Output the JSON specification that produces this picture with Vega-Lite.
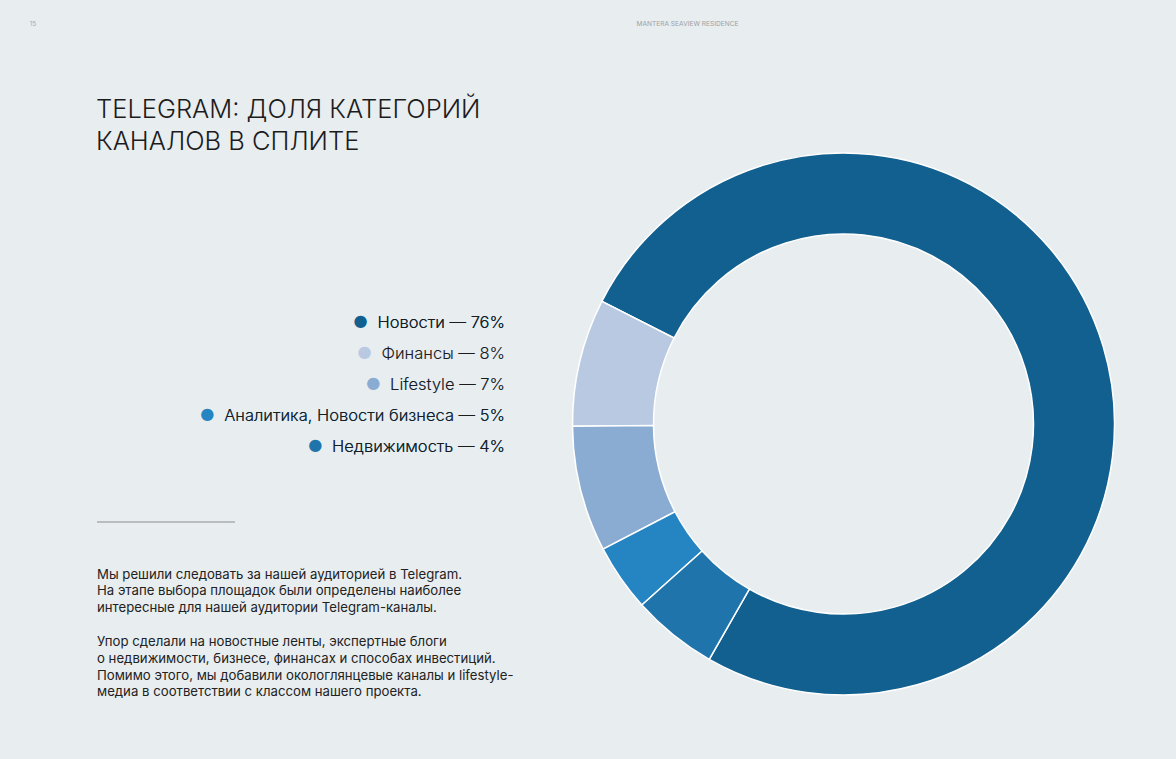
{
  "$schema": "https://vega.github.io/schema/vega-lite/v6.json",
  "background": "#e8edf0",
  "padding": {"left": 0, "top": 0, "right": 61, "bottom": 1},
  "config": {
    "view": {"stroke": null},
    "font": "Inter"
  },
  "datasets": {
    "split": [
      {"n": 1, "cat": "Новости", "share": 75.7, "label": "Новости — 76%"},
      {"n": 2, "cat": "Финансы", "share": 7.6, "label": "Финансы — 8%"},
      {"n": 3, "cat": "Lifestyle", "share": 7.5, "label": "Lifestyle — 7%"},
      {"n": 4, "cat": "Аналитика, Новости бизнеса", "share": 4.0, "label": "Аналитика, Новости бизнеса — 5%"},
      {"n": 5, "cat": "Недвижимость", "share": 5.1, "label": "Недвижимость — 4%"}
    ],
    "page": [{"t": "15"}],
    "header": [{"t": "MANTERA SEAVIEW RESIDENCE"}],
    "heading": [{"t": "TELEGRAM: ДОЛЯ КАТЕГОРИЙ\nКАНАЛОВ В СПЛИТЕ"}],
    "body1": [{"t": "Мы решили следовать за нашей аудиторией в Telegram.\nНа этапе выбора площадок были определены наиболее\nинтересные для нашей аудитории Telegram-каналы."}],
    "body2": [{"t": "Упор сделали на новостные ленты, экспертные блоги\nо недвижимости, бизнесе, финансах и способах инвестиций.\nПомимо этого, мы добавили окологлянцевые каналы и lifestyle-\nмедиа в соответствии с классом нашего проекта."}],
    "divider": [{"d": 0}]
  },
  "spacing": 30,
  "hconcat": [
    {
      "width": 66,
      "height": 48,
      "data": {"name": "page"},
      "mark": {"type": "text", "align": "center", "baseline": "middle", "fontSize": 6.5, "color": "#a6abb0"},
      "encoding": {"text": {"field": "t"}}
    },
    {
      "spacing": 32.5,
      "hconcat": [
        {
          "spacing": 88.5,
          "vconcat": [
            {
              "width": 408,
              "height": 219,
              "data": {"name": "heading"},
              "mark": {"type": "text", "align": "left", "baseline": "middle", "fontSize": 25.5, "fontWeight": 300, "lineHeight": 32, "lineBreak": "\n", "color": "#1c1c1c", "dx": -1},
              "encoding": {"text": {"field": "t"}, "x": {"value": 0}}
            },
            {
              "spacing": 58.5,
              "vconcat": [
                {
                  "width": 408,
                  "height": 155,
                  "data": {"name": "split"},
                  "layer": [
                    {
                      "mark": {"type": "text", "align": "right", "baseline": "middle", "fontSize": 16.5, "fontWeight": 300, "text": {"expr": "'●\u00a0\u00a0' + datum.label"}},
                      "encoding": {
                        "y": {"field": "cat", "type": "nominal", "sort": null, "axis": null},
                        "x": {"value": "width"},
                        "color": {
                          "field": "cat", "type": "nominal", "legend": null,
                          "scale": {
                            "domain": ["Новости", "Финансы", "Lifestyle", "Аналитика, Новости бизнеса", "Недвижимость"],
                            "range": ["#11608f", "#b9c9e2", "#8bacd2", "#2584c2", "#1e74ab"]
                          }
                        }
                      }
                    },
                    {
                      "mark": {"type": "text", "align": "right", "baseline": "middle", "fontSize": 16.5, "fontWeight": 300, "color": "#1c1c1c"},
                      "encoding": {
                        "y": {"field": "cat", "type": "nominal", "sort": null, "axis": null},
                        "x": {"value": "width"},
                        "text": {"field": "label"}
                      }
                    }
                  ]
                },
                {
                  "spacing": 0,
                  "vconcat": [
                    {
                      "width": 138,
                      "height": 1,
                      "data": {"name": "divider"},
                      "mark": {"type": "rule", "color": "#8a8d90", "strokeWidth": 1},
                      "encoding": {
                        "y": {"field": "d", "type": "quantitative", "axis": null, "scale": {"domain": [0, 1]}}
                      }
                    },
                    {
                      "width": 440,
                      "height": 103.4,
                      "layer": [
                        {
                          "data": {"name": "body1"},
                          "mark": {"type": "text", "align": "left", "baseline": "middle", "fontSize": 13.2, "lineHeight": 16.8, "lineBreak": "\n", "color": "#222222"},
                          "encoding": {"text": {"field": "t"}, "x": {"value": 0}}
                        },
                        {
                          "data": {"name": "body2"},
                          "mark": {"type": "text", "align": "left", "baseline": "middle", "fontSize": 13.2, "lineHeight": 16.8, "lineBreak": "\n", "color": "#222222", "dy": 67.3},
                          "encoding": {"text": {"field": "t"}, "x": {"value": 0}}
                        }
                      ]
                    }
                  ]
                }
              ]
            }
          ]
        },
        {
          "spacing": 42,
          "vconcat": [
            {
              "width": 230,
              "height": 48,
              "data": {"name": "header"},
              "mark": {"type": "text", "align": "center", "baseline": "middle", "fontSize": 6.6, "color": "#9ba1a6"},
              "encoding": {"text": {"field": "t"}}
            },
            {
              "width": 542,
              "height": 668,
              "data": {"name": "split"},
              "mark": {"type": "arc", "innerRadius": 190, "stroke": "#ffffff", "strokeWidth": 1.5},
              "encoding": {
                "theta": {"field": "share", "type": "quantitative", "stack": true, "scale": {"range": [3.66, -2.6232]}},
                "order": {"field": "n", "type": "quantitative"},
                "color": {
                  "field": "cat", "type": "nominal", "legend": null,
                  "scale": {
                    "domain": ["Новости", "Финансы", "Lifestyle", "Аналитика, Новости бизнеса", "Недвижимость"],
                    "range": ["#11608f", "#b9c9e2", "#8bacd2", "#2584c2", "#1e74ab"]
                  }
                }
              }
            }
          ]
        }
      ]
    }
  ]
}
